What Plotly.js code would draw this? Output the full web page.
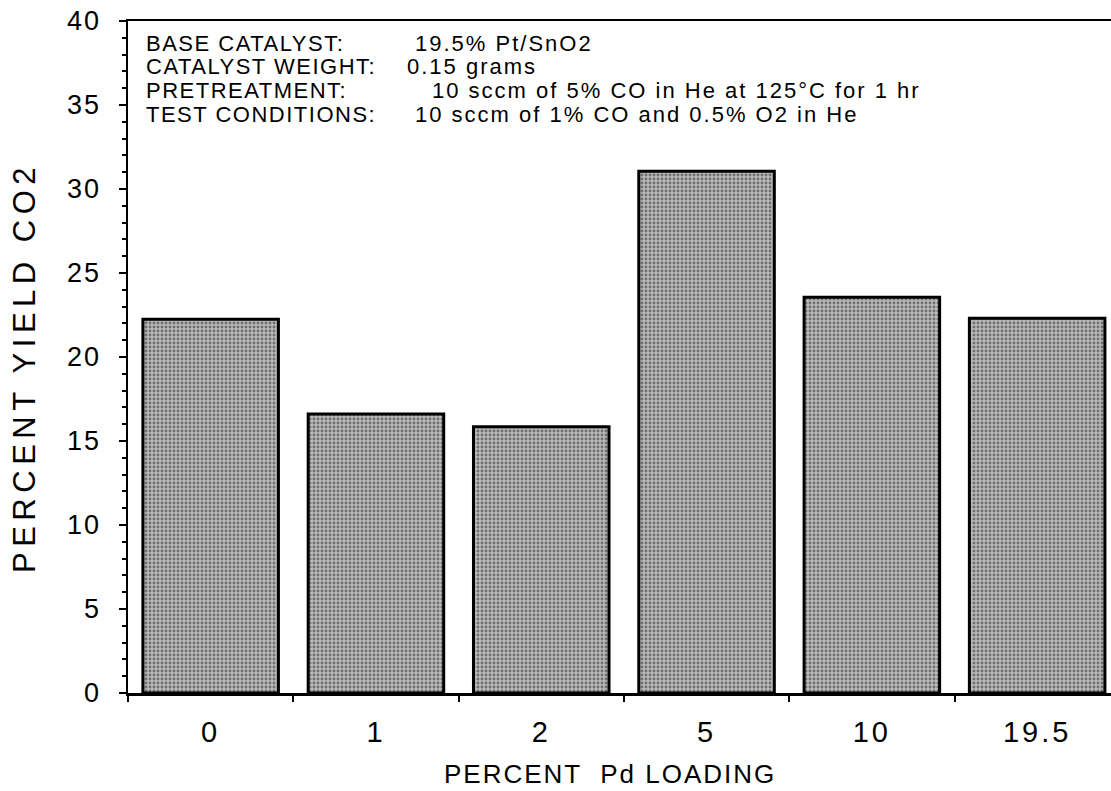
<!DOCTYPE html>
<html>
<head>
<meta charset="utf-8">
<script src="https://cdn.plot.ly/plotly-3.0.1.min.js"></script>
<style>
html,body{margin:0;padding:0;background:#fff;}
#chart{width:1111px;height:791px;}
#chart .xtick text{letter-spacing:3px;}
#chart .ytick text{letter-spacing:2px;}
</style>
</head>
<body>
<div id="chart"></div>
<script>
// ---- data ----
const pdLoading = ['0', '1', '2', '5', '10', '19.5'];
const yieldCO2 = [22.25, 16.6, 15.85, 31.05, 23.55, 22.3];

const infoLabels = ['BASE CATALYST:', 'CATALYST WEIGHT:', 'PRETREATMENT:', 'TEST CONDITIONS:'];
const infoValues = ['19.5% Pt/SnO2', '0.15 grams', '10 sccm of 5% CO in He at 125°C for 1 hr', '10 sccm of 1% CO and 0.5% O2 in He'];

const xTitle = 'PERCENT  Pd LOADING';
const yTitle = 'PERCENT YIELD CO2';

// ---- layout helpers (pixel geometry) ----
const W = 1111, H = 791;
const mL = 128, mR = 0, mT = 21, mB = 98;
const pw = W - mL - mR, ph = H - mT - mB;
const px2x = p => (p - mL) / pw;
const py2y = p => (H - mB - p) / ph;

const FONT = 'Liberation Sans, Arial, Helvetica, sans-serif';
const spaced = (t, s) => '<span style="letter-spacing:' + s + 'px">' + t.replace(/  /g, ' \u00A0') + '</span>';

const infoLineY = [43, 67, 91, 115];
const infoLabelX = 144;
const infoValueX = [413, 405, 430, 413];

const annotations = [];
infoLabels.forEach((t, i) => {
  annotations.push({
    text: spaced(t, 1.5), xref: 'paper', yref: 'paper',
    x: px2x(infoLabelX), y: py2y(infoLineY[i]), xanchor: 'left', yanchor: 'middle',
    showarrow: false, font: {family: FONT, size: 22, color: '#000'}
  });
  annotations.push({
    text: spaced(infoValues[i], 2), xref: 'paper', yref: 'paper',
    x: px2x(infoValueX[i]), y: py2y(infoLineY[i]), xanchor: 'left', yanchor: 'middle',
    showarrow: false, font: {family: FONT, size: 22, color: '#000'}
  });
});

// axis titles (placed as annotations so their position matches the reference)
annotations.push({
  text: spaced(xTitle, 2), xref: 'paper', yref: 'paper',
  x: px2x(610), y: py2y(774), xanchor: 'center', yanchor: 'middle',
  showarrow: false, font: {family: FONT, size: 26, color: '#000'}
});
annotations.push({
  text: spaced(yTitle, 5.5), xref: 'paper', yref: 'paper', textangle: -90,
  x: px2x(24), y: py2y(368), xanchor: 'center', yanchor: 'middle',
  showarrow: false, font: {family: FONT, size: 31, color: '#000'}
});

const trace = {
  type: 'bar',
  x: pdLoading,
  y: yieldCO2,
  marker: {
    color: '#b9b9b9',
    line: {color: '#000', width: 3},
    pattern: {shape: '.', fillmode: 'overlay', fgcolor: '#262626', size: 4, solidity: 0.4}
  },
  hoverinfo: 'x+y'
};

const layout = {
  width: W, height: H,
  margin: {l: mL, r: mR, t: mT, b: mB, pad: 0},
  paper_bgcolor: '#fff', plot_bgcolor: '#fff',
  showlegend: false,
  bargap: 0.18,
  font: {family: FONT, color: '#000'},
  xaxis: {
    type: 'category',
    range: [-0.5, -0.5 + pw / 165.3],
    showline: true, linecolor: '#000', linewidth: 2.5, mirror: true,
    showgrid: false, zeroline: false,
    ticks: 'outside', tickson: 'boundaries', ticklen: 6, tickwidth: 2, tickcolor: '#000',
    tickfont: {family: FONT, size: 29, color: '#000'},
    ticklabelstandoff: 12
  },
  yaxis: {
    range: [0, 40],
    tickmode: 'linear', tick0: 0, dtick: 5,
    showline: true, linecolor: '#000', linewidth: 2.5, mirror: false,
    showgrid: false, zeroline: false,
    ticks: 'outside', ticklen: 7, tickwidth: 2, tickcolor: '#000',
    minor: {dtick: 1, ticks: 'outside', ticklen: 4, tickwidth: 2, tickcolor: '#000', showgrid: false},
    tickfont: {family: FONT, size: 27, color: '#000'},
    ticklabelstandoff: 12
  },
  annotations: annotations
};

Plotly.newPlot('chart', [trace], layout, {staticPlot: true, displayModeBar: false});
</script>
</body>
</html>
